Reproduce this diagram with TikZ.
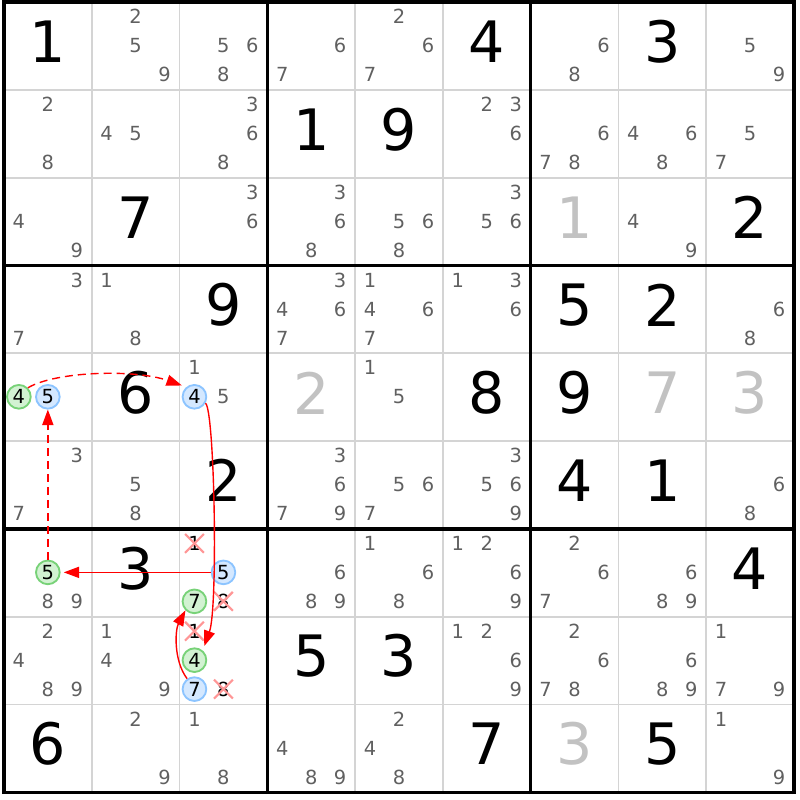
\documentclass[tikz,border=0pt]{standalone}
\usepackage{fontspec}
\setmainfont{DejaVu Sans}
\usetikzlibrary{arrows.meta,shapes.misc}

\definecolor{candgray}{RGB}{96,96,96}
\definecolor{solvedgray}{RGB}{194,194,194}
\definecolor{thingray}{RGB}{212,212,212}
\definecolor{greenfill}{RGB}{210,242,210}
\definecolor{greenline}{RGB}{120,210,120}
\definecolor{bluefill}{RGB}{212,232,255}
\definecolor{blueline}{RGB}{140,196,255}
\definecolor{crossred}{RGB}{255,150,150}

% pencil marks of one cell: row, column, digits
\newcommand{\cands}[3]{%
  \foreach \d in {#3} {
    \pgfmathsetmacro{\candx}{#2-1+0.17+0.33*mod(\d-1,3)}
    \pgfmathsetmacro{\candy}{10-#1-0.165-0.33*floor((\d-1)/3)}
    \node[cand] (c#1#2\d) at (\candx,\candy) {\d};
  }%
}
% one pencil mark with a style: row, column, digit, style
\newcommand{\markcand}[4]{%
  \pgfmathsetmacro{\candx}{#2-1+0.17+0.33*mod(#3-1,3)}
  \pgfmathsetmacro{\candy}{10-#1-0.165-0.33*floor((#3-1)/3)}
  \node[cand,#4] (c#1#2#3) at (\candx,\candy) {#3};
}
% placed digit: [colour] row, column, digit
\newcommand{\bigdigit}[4][black]{%
  \node[given,text=#1] (g#2#3) at (#3-0.5,9.55-#2) {#4};
}

\begin{document}
\begin{tikzpicture}

    \tikzset{
      cand/.style={font=\fontsize{6.3}{7}\selectfont, text=candgray, inner sep=0pt},
      given/.style={font=\fontsize{18.5}{20}\selectfont, inner sep=0pt},
      greenmark/.style={circle, draw=greenline, fill=greenfill, line width=0.6pt,
        minimum size=0.27cm, text=black},
      bluemark/.style={circle, draw=blueline, fill=bluefill, line width=0.6pt,
        minimum size=0.27cm, text=black},
      crossmark/.style={cross out, draw=crossred, line width=0.7pt,
        minimum size=0.19cm, text=black},
      link/.style={red, line width=0.45pt, -{Triangle[length=5pt,width=3.6pt]}},
      weaklink/.style={link, dash pattern=on 2.6pt off 1.6pt},
    }
    \useasboundingbox (-0.045,-0.085) rectangle (9.068,9.025);

    % grid
    \foreach \i in {1,2,4,5,7,8} {
      \draw[thingray, line width=0.6pt] (\i,0) -- (\i,9);
      \draw[thingray, line width=0.6pt] (0,\i) -- (9,\i);
    }
    \foreach \i in {0,3,6,9} {
      \draw[black, line width=1.1pt] (\i,-0.02) -- (\i,9.02);
      \draw[black, line width=1.1pt] (-0.02,\i) -- (9.02,\i);
    }

    % row 1
    \bigdigit{1}{1}{1} \cands{1}{2}{2,5,9} \cands{1}{3}{5,6,8}
    \cands{1}{4}{6,7} \cands{1}{5}{2,6,7} \bigdigit{1}{6}{4}
    \cands{1}{7}{6,8} \bigdigit{1}{8}{3} \cands{1}{9}{5,9}
    % row 2
    \cands{2}{1}{2,8} \cands{2}{2}{4,5} \cands{2}{3}{3,6,8}
    \bigdigit{2}{4}{1} \bigdigit{2}{5}{9} \cands{2}{6}{2,3,6}
    \cands{2}{7}{6,7,8} \cands{2}{8}{4,6,8} \cands{2}{9}{5,7}
    % row 3
    \cands{3}{1}{4,9} \bigdigit{3}{2}{7} \cands{3}{3}{3,6}
    \cands{3}{4}{3,6,8} \cands{3}{5}{5,6,8} \cands{3}{6}{3,5,6}
    \bigdigit[solvedgray]{3}{7}{1} \cands{3}{8}{4,9} \bigdigit{3}{9}{2}
    % row 4
    \cands{4}{1}{3,7} \cands{4}{2}{1,8} \bigdigit{4}{3}{9}
    \cands{4}{4}{3,4,6,7} \cands{4}{5}{1,4,6,7} \cands{4}{6}{1,3,6}
    \bigdigit{4}{7}{5} \bigdigit{4}{8}{2} \cands{4}{9}{6,8}
    % row 5
    \markcand{5}{1}{4}{greenmark} \markcand{5}{1}{5}{bluemark}
    \bigdigit{5}{2}{6} \cands{5}{3}{1,5} \markcand{5}{3}{4}{bluemark}
    \bigdigit[solvedgray]{5}{4}{2} \cands{5}{5}{1,5} \bigdigit{5}{6}{8}
    \bigdigit{5}{7}{9} \bigdigit[solvedgray]{5}{8}{7} \bigdigit[solvedgray]{5}{9}{3}
    % row 6
    \cands{6}{1}{3,7} \cands{6}{2}{5,8} \bigdigit{6}{3}{2}
    \cands{6}{4}{3,6,7,9} \cands{6}{5}{5,6,7} \cands{6}{6}{3,5,6,9}
    \bigdigit{6}{7}{4} \bigdigit{6}{8}{1} \cands{6}{9}{6,8}
    % row 7
    \cands{7}{1}{8,9} \markcand{7}{1}{5}{greenmark} \bigdigit{7}{2}{3}
    \markcand{7}{3}{1}{crossmark} \markcand{7}{3}{5}{bluemark}
    \markcand{7}{3}{7}{greenmark} \markcand{7}{3}{8}{crossmark}
    \cands{7}{4}{6,8,9} \cands{7}{5}{1,6,8} \cands{7}{6}{1,2,6,9}
    \cands{7}{7}{2,6,7} \cands{7}{8}{6,8,9} \bigdigit{7}{9}{4}
    % row 8
    \cands{8}{1}{2,4,8,9} \cands{8}{2}{1,4,9}
    \markcand{8}{3}{1}{crossmark} \markcand{8}{3}{4}{greenmark}
    \markcand{8}{3}{7}{bluemark} \markcand{8}{3}{8}{crossmark}
    \bigdigit{8}{4}{5} \bigdigit{8}{5}{3} \cands{8}{6}{1,2,6,9}
    \cands{8}{7}{2,6,7,8} \cands{8}{8}{6,8,9} \cands{8}{9}{1,7,9}
    % row 9
    \bigdigit{9}{1}{6} \cands{9}{2}{2,9} \cands{9}{3}{1,8}
    \cands{9}{4}{4,8,9} \cands{9}{5}{2,4,8} \bigdigit{9}{6}{7}
    \bigdigit[solvedgray]{9}{7}{3} \bigdigit{9}{8}{5} \cands{9}{9}{1,9}

    % chain
    \draw[weaklink, shorten >=1.5pt] (c514.45) .. controls (0.6,4.8) and (1.5,4.82) .. (c534.130);
    \draw[link, shorten >=1.5pt] (c534.-30) .. controls (2.4,4.35) and (2.44,2.1) .. (c834.50);
    \draw[link] (c837.125) .. controls (1.93,1.5) and (1.95,1.85) .. (c737.225);
    \draw[link, shorten >=1pt] (c735.west) -- (c715.east);
    \draw[weaklink] (c715.north) -- (c515.south);

\end{tikzpicture}
\end{document}
